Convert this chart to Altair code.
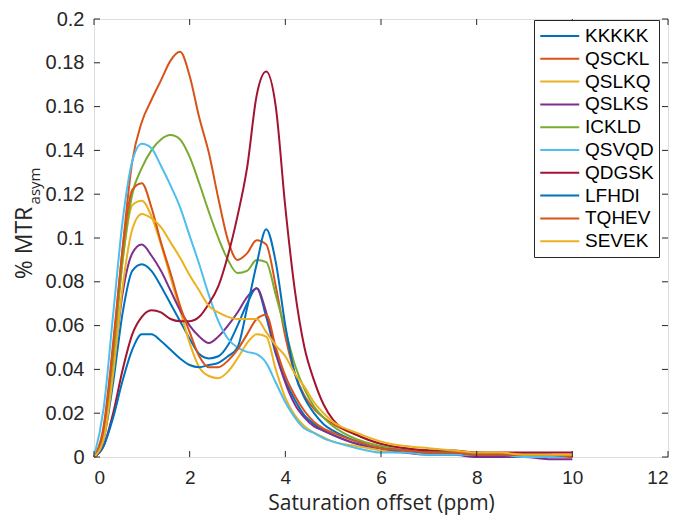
import altair as alt
import pandas as pd

# MATLAB default colour order (repeats after seven)
COLORS = ["#0072BD", "#D95319", "#EDB120", "#7E2F8E", "#77AC30",
          "#4DBEEE", "#A2142F", "#0072BD", "#D95319", "#EDB120"]

NAMES = ["KKKKK", "QSCKL", "QSLKQ", "QSLKS", "ICKLD",
         "QSVQD", "QDGSK", "LFHDI", "TQHEV", "SEVEK"]

# saturation offset (ppm)
OFFSET = [0, 0.2, 0.4, 0.6, 0.8, 1.0, 1.2, 1.4, 1.6, 1.8, 2.0, 2.2, 2.4, 2.6,
          2.8, 3.0, 3.2, 3.4, 3.6, 3.8, 4.0, 4.2, 4.4, 4.6, 4.8, 5.0,
          5.5, 6.0, 6.5, 7.0, 7.5, 8.0, 8.5, 9.0, 9.5, 10.0]

KKKKK = [0, .008, .034, .066, .085, .088, .085, .078, .070, .062, .054, .047, .045, .046,
         .051, .060, .070, .077, .064, .047, .035, .026, .019, .015, .012, .010,
         .006, .004, .003, .002, .002, .001, .001, .001, .001, .000]
QSCKL = [0, .014, .052, .096, .135, .153, .163, .172, .181, .185, .174, .155, .139, .118,
         .099, .090, .093, .099, .097, .078, .055, .038, .028, .022, .018, .015,
         .010, .006, .004, .003, .002, .002, .001, .001, .001, .001]
QSLKQ = [0, .010, .045, .090, .115, .117, .110, .097, .082, .067, .052, .041, .037, .036,
         .039, .045, .052, .056, .055, .040, .027, .019, .014, .011, .009, .007,
         .005, .003, .002, .002, .001, .001, .001, .001, .001, .000]
QSLKS = [0, .010, .040, .075, .093, .097, .092, .085, .076, .067, .060, .055, .052, .055,
         .060, .066, .073, .077, .066, .048, .034, .024, .018, .014, .012, .010,
         .006, .004, .002, .001, .001, .000, .000, .000, -.001, -.001]
ICKLD = [0, .010, .045, .090, .120, .132, .140, .145, .147, .145, .137, .125, .112, .100,
         .090, .084, .085, .090, .089, .074, .058, .042, .031, .023, .018, .014,
         .008, .005, .003, .002, .002, .001, .001, .001, .001, .000]
QSVQD = [0, .022, .065, .108, .135, .143, .141, .133, .124, .114, .101, .088, .074, .062,
         .054, .050, .048, .047, .043, .034, .025, .018, .013, .011, .0085, .007,
         .004, .002, .002, .001, .001, .001, .001, .000, .000, .000]
QDGSK = [0, .005, .020, .040, .056, .064, .067, .066, .063, .062, .062, .064, .070, .078,
         .092, .110, .132, .165, .176, .160, .114, .076, .050, .035, .024, .017,
         .010, .006, .004, .003, .003, .002, .002, .002, .002, .002]
LFHDI = [0, .005, .018, .035, .049, .056, .056, .053, .049, .045, .042, .041, .042, .043,
         .046, .050, .068, .088, .104, .089, .060, .038, .027, .020, .015, .012,
         .007, .004, .003, .002, .002, .001, .001, .001, .001, .000]
TQHEV = [0, .012, .050, .095, .122, .125, .114, .098, .084, .069, .057, .046, .041, .041,
         .044, .049, .056, .063, .065, .050, .037, .028, .021, .016, .013, .011,
         .007, .004, .003, .002, .002, .001, .001, .001, .001, .000]
SEVEK = [0, .008, .038, .078, .104, .111, .109, .105, .098, .091, .083, .076, .069, .066,
         .064, .063, .063, .063, .057, .051, .046, .038, .032, .025, .020, .016,
         .011, .007, .005, .004, .003, .002, .002, .001, .001, .001]

SERIES = [KKKKK, QSCKL, QSLKQ, QSLKS, ICKLD, QSVQD, QDGSK, LFHDI, TQHEV, SEVEK]

XTICKS = [0, 2, 4, 6, 8, 10, 12]
YTICKS = [0, 0.02, 0.04, 0.06, 0.08, 0.1, 0.12, 0.14, 0.16, 0.18, 0.2]

W, H = 574, 438
FRAME = "#262626"

rows = []
for name, vals in zip(NAMES, SERIES):
    for order, (x, y) in enumerate(zip(OFFSET, vals)):
        rows.append({"peptide": name, "offset": x, "mtr": y, "k": order})
df = pd.DataFrame(rows)

xscale = alt.Scale(domain=[0, 12], nice=False, zero=False)
yscale = alt.Scale(domain=[0, 0.2], nice=False, zero=False)

lines = alt.Chart(df).mark_line(strokeWidth=2, interpolate="monotone").encode(
    x=alt.X("offset:Q", scale=xscale,
            axis=alt.Axis(values=XTICKS, ticks=False, domain=False, grid=False,
                          labelFont="Liberation Sans", labelFontSize=19,
                          labelColor=FRAME, labelPadding=11,
                          title="Saturation offset (ppm)", titleFont="Open Sans",
                          titleFontSize=21, titleFontWeight="normal",
                          titleColor=FRAME, titleY=52.5, titleBaseline="alphabetic")),
    y=alt.Y("mtr:Q", scale=yscale,
            axis=alt.Axis(values=YTICKS, format="~g", ticks=False, domain=False,
                          grid=False, labelFont="Liberation Sans", labelFontSize=20,
                          labelColor=FRAME, labelPadding=10, title=None)),
    color=alt.Color("peptide:N", sort=NAMES,
                    scale=alt.Scale(domain=NAMES, range=COLORS),
                    legend=alt.Legend(title=None, orient="none", legendX=440,
                                      legendY=1, symbolType="M-1,0H3",
                                      symbolSize=380, symbolStrokeWidth=2,
                                      labelFont="Liberation Sans", labelFontSize=19,
                                      labelColor="black", padding=5, rowPadding=1.8,
                                      strokeColor=FRAME, fillColor="white",
                                      labelOffset=24)),
    detail="peptide:N",
    order="k:Q",
)

# inward MATLAB-style ticks on all four sides
xt = pd.DataFrame({"v": XTICKS})
yt = pd.DataFrame({"v": YTICKS})
tick_b = alt.Chart(xt).mark_rule(color=FRAME, strokeWidth=1).encode(
    x=alt.X("v:Q", scale=xscale), y=alt.value(H), y2=alt.value(H - 6))
tick_t = alt.Chart(xt).mark_rule(color=FRAME, strokeWidth=1).encode(
    x=alt.X("v:Q", scale=xscale), y=alt.value(0), y2=alt.value(6))
tick_l = alt.Chart(yt).mark_rule(color=FRAME, strokeWidth=1).encode(
    y=alt.Y("v:Q", scale=yscale), x=alt.value(0), x2=alt.value(6))
tick_r = alt.Chart(yt).mark_rule(color=FRAME, strokeWidth=1).encode(
    y=alt.Y("v:Q", scale=yscale), x=alt.value(W), x2=alt.value(W - 6))

# y title with subscript
ytitle = alt.Chart(pd.DataFrame({"t": ["% MTR"]})).mark_text(
    angle=270, font="Open Sans", fontSize=23, color=FRAME, align="center",
    baseline="alphabetic").encode(x=alt.value(-62), y=alt.value(224), text="t:N")
ysub = alt.Chart(pd.DataFrame({"t": ["asym"]})).mark_text(
    angle=270, font="Open Sans", fontSize=15, color=FRAME, align="center",
    baseline="alphabetic").encode(x=alt.value(-54), y=alt.value(167), text="t:N")

chart = alt.layer(lines, tick_b, tick_t, tick_l, tick_r, ytitle, ysub).properties(
    width=W, height=H,
    autosize=alt.AutoSizeParams(type="none"),
    padding={"left": 86, "top": 11, "right": 4, "bottom": 59},
).configure_view(stroke=FRAME, strokeWidth=1).configure(background="white")

chart.save("out.html", embed_options={"renderer": "svg", "actions": False})
